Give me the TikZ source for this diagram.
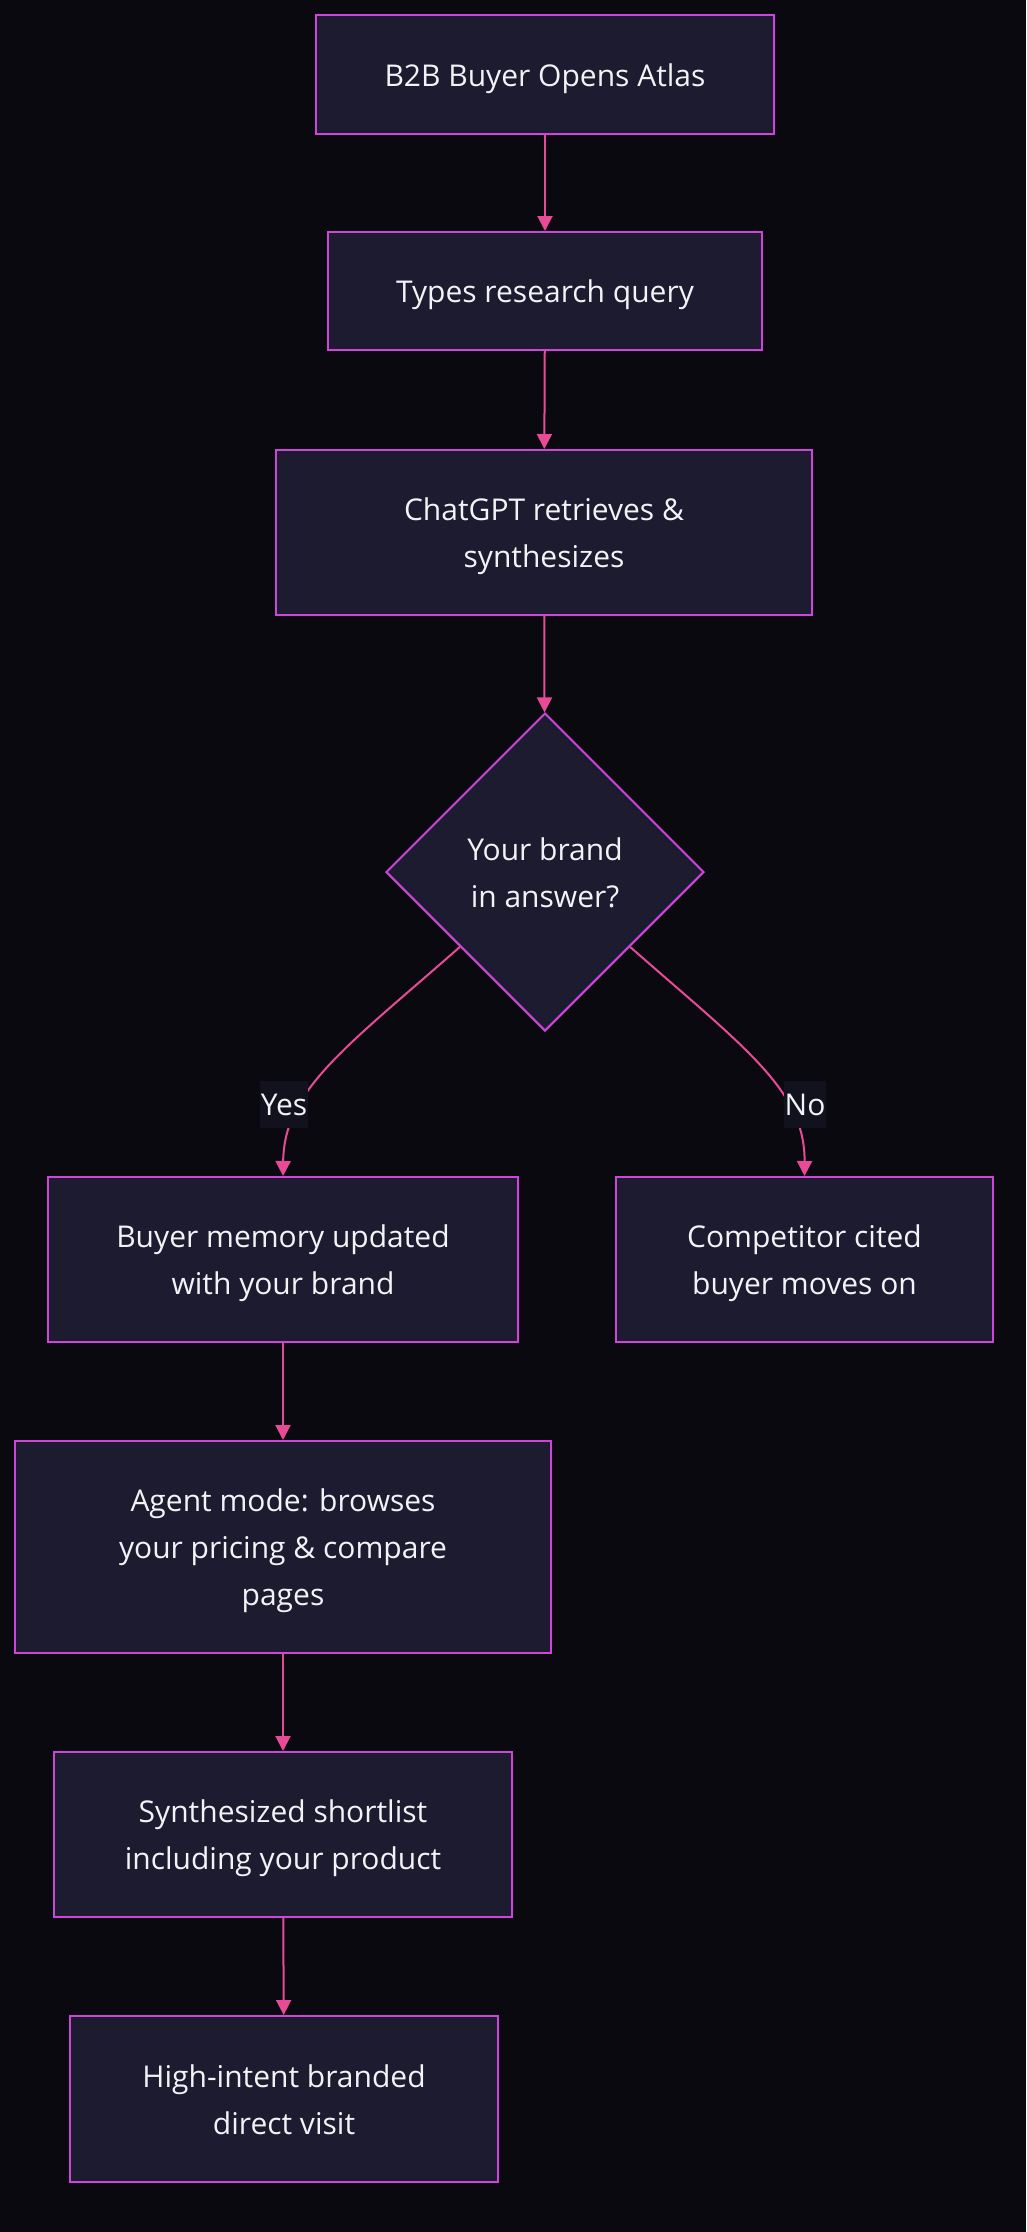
\documentclass[tikz,border=0pt]{standalone}
\usepackage{fontspec}
\setmainfont{Open Sans}
\usetikzlibrary{shapes.geometric,arrows.meta}
\definecolor{bgc}{HTML}{0A090F}
\definecolor{boxfill}{HTML}{1C1B2F}
\definecolor{boxline}{HTML}{CF45DC}
\definecolor{edgec}{HTML}{E84B96}
\definecolor{lblfill}{HTML}{12111E}
\definecolor{txt}{HTML}{F2F2F7}
\newcommand{\sx}{\rule[-12pt]{0pt}{47pt}}
\begin{document}
\begin{tikzpicture}[x=1pt,y=-1pt,
  every node/.style={font=\fontsize{30}{47}\selectfont, text=txt},
  proc/.style={draw=boxline, fill=boxfill, line width=2pt, rectangle, align=center, inner sep=0pt},
  decide/.style={draw=boxline, fill=boxfill, line width=2pt, diamond, aspect=1, align=center, inner sep=0pt, minimum width=318pt, minimum height=318pt},
  edge/.style={draw=edgec, line width=2pt, -{Triangle[length=15pt,width=15pt]}},
  lbl/.style={fill=lblfill, inner xsep=0.5pt, inner ysep=0pt}
]
\fill[bgc] (0,0) rectangle (1026,2232);
\useasboundingbox (0,0) rectangle (1026,2232);

\node[proc, minimum width=458pt, minimum height=119pt] (n1) at (545,74.5) {\sx B2B Buyer Opens Atlas};
\node[proc, minimum width=434pt, minimum height=118pt] (n2) at (545,291) {\sx Types research query};
\node[proc, minimum width=536pt, minimum height=165pt] (n3) at (544,532.5) {\sx ChatGPT retrieves \&\\ \sx synthesizes};
\node[decide] (n4) at (545,872) {\sx Your brand\\ \sx in answer?};
\node[proc, minimum width=470pt, minimum height=165pt] (n5) at (283,1259.5) {\sx Buyer memory updated\\ \sx with your brand};
\node[proc, minimum width=377pt, minimum height=165pt] (n6) at (804.5,1259.5) {\sx Competitor cited\\ \sx buyer moves on};
\node[proc, minimum width=536pt, minimum height=212pt] (n7) at (283,1547) {\sx Agent mode: browses\\ \sx your pricing \& compare\\ \sx pages};
\node[proc, minimum width=458pt, minimum height=165pt] (n8) at (283,1834.5) {\sx Synthesized shortlist\\ \sx including your product};
\node[proc, minimum width=428pt, minimum height=166pt] (n9) at (284,2099) {\sx High-intent branded\\ \sx direct visit};

\draw[edge] (n1) -- (n2);
\draw[edge] (n2) -- (n3);
\draw[edge] (n3) -- (n4);
\draw[edge] (n4) .. controls (345,1048) and (284,1090) .. (n5.north);
\draw[edge] (n4) .. controls (745,1048) and (805,1090) .. (n6.north);
\draw[edge] (n5) -- (n7);
\draw[edge] (n7) -- (n8);
\draw[edge] (n8) -- (n9);

\node[lbl] (yes) at (284,1104) {\sx Yes};
\node[lbl] (no) at (805,1104) {\sx No};
\end{tikzpicture}
\end{document}
